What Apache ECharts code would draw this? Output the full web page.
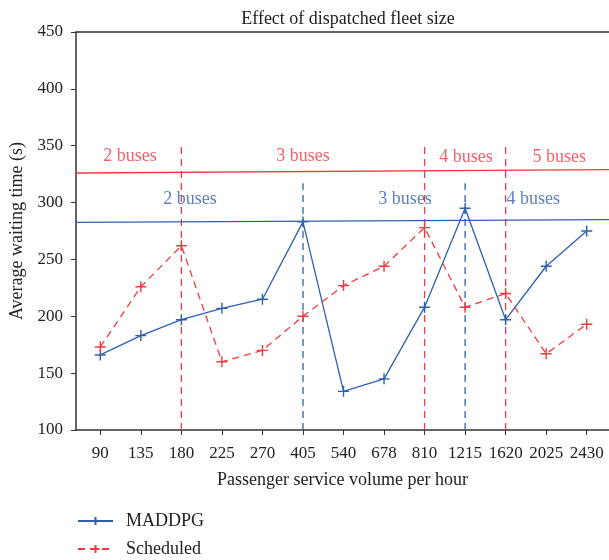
<!DOCTYPE html>
<html>
<head>
<meta charset="utf-8">
<script src="https://cdn.jsdelivr.net/npm/echarts@6/dist/echarts.min.js"></script>
<style>
  html, body { margin: 0; padding: 0; background: #fff; }
  #chart { width: 609px; height: 560px; }
</style>
</head>
<body>
<div id="chart"></div>
<script>
// Passenger volumes (categories along the x axis)
const categories = ['90', '135', '180', '225', '270', '405', '540', '678', '810', '1215', '1620', '2025', '2430'];
// Average waiting time (s)
const maddpg    = [166, 183, 197, 207, 215, 283, 134, 145, 208, 295, 197, 244, 275];
const scheduled = [173, 226, 262, 160, 170, 200, 227, 244, 278, 208, 220, 167, 193];
const yTicks = [100, 150, 200, 250, 300, 350, 400, 450];

// Fleet-size thresholds: horizontal level lines (start/end values)
const schedLevel  = [326, 329];
const maddpgLevel = [282.5, 285];
// Category indices where the fleet size steps up, and the top of each marker line
const schedSteps  = [2, 8, 10];
const schedStepTop = 349;
const maddpgSteps = [5, 9];
const maddpgStepTop = 317;
// Fleet-size annotations: [x position (category index), y value, text]
const schedNotes  = [[0.73, 341, '2 buses'], [5.0, 341, '3 buses'], [9.02, 339.5, '4 buses'], [11.32, 339.5, '5 buses']];
const maddpgNotes = [[2.21, 302.5, '2 buses'], [7.52, 302.5, '3 buses'], [10.68, 302.5, '4 buses']];

const BLUE = '#2e5fae';
const RED = '#f03a40';
const AXIS = '#333';
const TEXT = '#222';
const FONT = 'Liberation Serif';
const X_MIN = -0.6, X_MAX = 12.55;
const PLUS = 'path://M5,0V10M0,5H10';

const idx = categories.map((_, i) => i);
const toPairs = arr => arr.map((v, i) => [i, v]);

function stepSeries(steps, top, color) {
  return steps.map(s => ({
    type: 'line', silent: true, symbol: 'none', z: 1,
    data: [[s, 100], [s, top]],
    lineStyle: { color: color, width: 1.3, type: [7, 5] }
  }));
}
function noteSeries(notes, color) {
  return {
    type: 'scatter', silent: true, symbolSize: 0, z: 5,
    data: notes.map(n => ({ value: [n[0], n[1]], name: n[2] })),
    label: {
      show: true, position: 'inside', formatter: p => p.name,
      color: color, fontFamily: FONT, fontSize: 18
    }
  };
}

const chart = echarts.init(document.getElementById('chart'), null, { renderer: 'canvas' });
chart.setOption({
  animation: false,
  backgroundColor: '#fff',
  title: {
    text: 'Effect of dispatched fleet size',
    left: 343, top: 5, textAlign: 'center',
    textStyle: { fontFamily: FONT, fontSize: 18, fontWeight: 'normal', color: TEXT }
  },
  legend: {
    orient: 'vertical', left: 77, top: 512, padding: 0,
    itemWidth: 35, itemHeight: 10, itemGap: 10,
    data: ['MADDPG', 'Scheduled'],
    textStyle: { fontFamily: FONT, fontSize: 18, color: TEXT, padding: [0, 0, 0, 8] }
  },
  grid: { left: 76, right: 0, top: 32, bottom: 130 },
  xAxis: [{
    type: 'value', min: X_MIN, max: X_MAX,
    name: 'Passenger service volume per hour', nameLocation: 'middle', nameGap: 41,
    nameTextStyle: { fontFamily: FONT, fontSize: 18, color: TEXT },
    splitLine: { show: false },
    axisLine: { show: true, onZero: false, lineStyle: { color: AXIS, width: 1.5 } },
    axisTick: { show: true, length: 5, lineStyle: { color: AXIS }, customValues: idx },
    axisLabel: {
      margin: 15, fontFamily: FONT, fontSize: 17, color: TEXT,
      customValues: idx, formatter: v => categories[Math.round(v)]
    }
  }, {
    type: 'value', position: 'top', min: X_MIN, max: X_MAX,
    splitLine: { show: false }, axisTick: { show: false }, axisLabel: { show: false },
    axisLine: { show: true, onZero: false, lineStyle: { color: AXIS, width: 1.5 } }
  }],
  yAxis: {
    type: 'value', min: 100, max: 450, interval: 50,
    name: 'Average waiting time (s)', nameLocation: 'middle', nameGap: 50,
    nameTextStyle: { fontFamily: FONT, fontSize: 18, color: TEXT },
    splitLine: { show: false },
    axisLine: { show: true, onZero: false, lineStyle: { color: AXIS, width: 1.5 } },
    axisTick: { show: true, length: 5, lineStyle: { color: AXIS } },
    axisLabel: { margin: 13, fontFamily: FONT, fontSize: 17, color: TEXT,
      customValues: yTicks }
  },
  series: [
    {
      name: 'MADDPG', type: 'line', data: toPairs(maddpg), z: 4,
      symbol: PLUS, symbolSize: 11, showAllSymbol: true,
      lineStyle: { color: BLUE, width: 1.3 },
      itemStyle: { color: BLUE, borderColor: BLUE, borderWidth: 1.4 }
    },
    {
      name: 'Scheduled', type: 'line', data: toPairs(scheduled), z: 4,
      symbol: PLUS, symbolSize: 11, showAllSymbol: true,
      lineStyle: { color: RED, width: 1.3, type: [7, 5] },
      itemStyle: { color: RED, borderColor: RED, borderWidth: 1.4 }
    },
    {
      type: 'line', silent: true, symbol: 'none', z: 2,
      data: [[X_MIN, schedLevel[0]], [X_MAX, schedLevel[1]]],
      lineStyle: { color: RED, width: 1.3 }
    },
    {
      type: 'line', silent: true, symbol: 'none', z: 2,
      data: [[X_MIN, maddpgLevel[0]], [X_MAX, maddpgLevel[1]]],
      lineStyle: { color: BLUE, width: 1.3 }
    },
    ...stepSeries(schedSteps, schedStepTop, RED),
    ...stepSeries(maddpgSteps, maddpgStepTop, BLUE),
    noteSeries(schedNotes, RED),
    noteSeries(maddpgNotes, BLUE)
  ]
});
</script>
</body>
</html>
